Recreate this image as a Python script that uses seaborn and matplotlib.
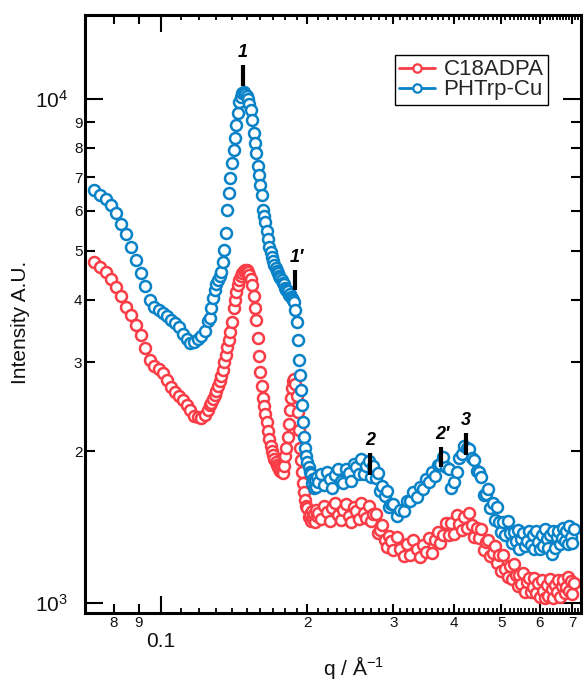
import matplotlib
matplotlib.use("Agg")
import matplotlib.pyplot as plt
from matplotlib.lines import Line2D
from matplotlib.ticker import FixedLocator, FixedFormatter, NullFormatter, NullLocator
import pandas as pd
import seaborn as sns

# ---------------------------------------------------------------- data
# scattering vector q (1/Angstrom)
q_low = [0.073, 0.075, 0.077, 0.079, 0.081, 0.083, 0.085, 0.087, 0.089, 0.091,
         0.093, 0.095, 0.097, 0.099, 0.101, 0.103, 0.105, 0.107, 0.109, 0.111,
         0.113, 0.115, 0.117, 0.119, 0.121, 0.123, 0.125]
q_peak = [0.126, 0.127, 0.128, 0.129, 0.130, 0.131, 0.132, 0.133, 0.134, 0.135,
          0.136, 0.137, 0.138, 0.139, 0.140, 0.141, 0.142, 0.143, 0.144, 0.145,
          0.146, 0.147, 0.148, 0.149, 0.150, 0.151, 0.152, 0.153, 0.154, 0.155,
          0.156, 0.157, 0.158, 0.159, 0.160, 0.161, 0.162, 0.163, 0.164, 0.165,
          0.166, 0.167, 0.168, 0.169, 0.170, 0.171, 0.172, 0.173, 0.174, 0.175,
          0.176, 0.177, 0.178, 0.179, 0.180, 0.181, 0.182, 0.183, 0.184, 0.185,
          0.186, 0.187, 0.188, 0.189, 0.190, 0.191, 0.192, 0.193, 0.194, 0.195,
          0.196, 0.197, 0.198, 0.199, 0.200, 0.201, 0.202, 0.203, 0.204, 0.205,
          0.206, 0.207, 0.208, 0.209, 0.210]
q_mid = [0.213, 0.216, 0.219, 0.222, 0.225, 0.228, 0.231, 0.234, 0.237, 0.240,
         0.243, 0.246, 0.249, 0.252, 0.255, 0.258, 0.261, 0.264, 0.267, 0.270,
         0.273, 0.276, 0.279, 0.282, 0.285, 0.288, 0.291, 0.294, 0.297, 0.300]
q_high = [0.305, 0.310, 0.315, 0.320, 0.325, 0.330, 0.335, 0.340, 0.345, 0.350,
          0.355, 0.360, 0.365, 0.370, 0.375, 0.380, 0.385, 0.390, 0.395, 0.400,
          0.405, 0.410, 0.415, 0.420, 0.425, 0.430, 0.435, 0.440, 0.445, 0.450,
          0.455, 0.460, 0.465, 0.470, 0.475, 0.480, 0.485, 0.490, 0.495, 0.500,
          0.505, 0.510, 0.515, 0.520, 0.525, 0.530, 0.535, 0.540, 0.545, 0.550,
          0.555, 0.560, 0.565, 0.570, 0.575, 0.580, 0.585, 0.590, 0.595, 0.600,
          0.605, 0.610, 0.615, 0.620, 0.625, 0.630, 0.635, 0.640, 0.645, 0.650,
          0.655, 0.660, 0.665, 0.670, 0.675, 0.680, 0.685, 0.690, 0.695, 0.700,
          0.705]

# C18ADPA intensity (a.u.)
c18_low = [4748, 4643, 4537, 4394, 4235, 4065, 3865, 3728, 3560, 3400,
           3200, 3030, 2953, 2912, 2860, 2769, 2682, 2620, 2574, 2527,
           2470, 2415, 2350, 2339, 2328, 2361, 2415]
c18_peak = [2470, 2493, 2540, 2586, 2634, 2694, 2757, 2820, 2899, 3007,
            3104, 3220, 3325, 3449, 3610, 3848, 3991, 4140, 4274, 4373,
            4455, 4516, 4557, 4578, 4578, 4537, 4475, 4394, 4274, 4065,
            3848, 3643, 3356, 3090, 2872, 2694, 2550, 2459, 2371, 2286,
            2194, 2115, 2048, 2002, 1966, 1930, 1904, 1878, 1861, 1844,
            1828, 1820, 1811, 1869, 1957, 2030, 2135, 2265, 2415, 2550,
            2670, 2757, 2782, 2718, 2574, 2393, 2204, 2030, 1921, 1820,
            1730, 1660, 1601, 1558, 1540, 1480, 1500, 1455, 1520, 1470,
            1500, 1445, 1530, 1490, 1510]
c18_mid = [1470, 1560, 1515, 1454, 1545, 1576, 1492, 1462, 1530, 1568,
           1485, 1447, 1553, 1523, 1470, 1576, 1507, 1477, 1560, 1454,
           1502, 1501, 1377, 1395, 1430, 1333, 1291, 1357, 1327, 1271]
c18_high = [1352, 1282, 1238, 1311, 1242, 1332, 1278, 1231, 1305, 1264,
            1348, 1256, 1334, 1380, 1314, 1363, 1440, 1365, 1440, 1368,
            1494, 1436, 1394, 1483, 1411, 1505, 1425, 1354, 1411, 1345,
            1400, 1275, 1323, 1336, 1240, 1254, 1296, 1201, 1243, 1157,
            1242, 1170, 1124, 1183, 1116, 1193, 1134, 1080, 1136, 1090,
            1145, 1051, 1100, 1123, 1052, 1075, 1121, 1048, 1094, 1027,
            1112, 1057, 1023, 1086, 1033, 1113, 1065, 1022, 1084, 1049,
            1110, 1027, 1081, 1110, 1047, 1075, 1124, 1055, 1105, 1041,
            1096]

# PHTrp-Cu intensity (a.u.)
phtrp_low = [6598, 6435, 6330, 6160, 5930, 5650, 5396, 5080, 4800, 4520,
             4250, 4000, 3865, 3813, 3762, 3710, 3643, 3595, 3530, 3418,
             3340, 3278, 3293, 3340, 3387, 3465, 3626]
phtrp_peak = [3676, 3848, 4028, 4178, 4294, 4373, 4455, 4537, 4750, 5016,
              5420, 6022, 6510, 6970, 7465, 7922, 8370, 8890, 9380, 9860,
              10090, 10280, 10330, 10240, 10140, 10000, 9770, 9511, 9086, 8560,
              8180, 7810, 7360, 7065, 6750, 6450, 6022, 5860, 5700, 5470,
              5275, 5086, 4970, 4860, 4770, 4684, 4620, 4557, 4516, 4455,
              4414, 4380, 4313, 4300, 4215, 4178, 4160, 4090, 4110, 4045,
              4028, 3991, 3955, 3813, 3610, 3325, 3034, 2830, 2646, 2470,
              2286, 2135, 2030, 1957, 1904, 1861, 1820, 1800, 1730, 1760,
              1690, 1750, 1700, 1780, 1740]
phtrp_mid = [1805, 1712, 1822, 1760, 1694, 1797, 1846, 1744, 1727, 1845,
             1810, 1747, 1885, 1858, 1804, 1929, 1804, 1871, 1916, 1776,
             1867, 1772, 1808, 1668, 1707, 1627, 1671, 1552, 1570, 1571]
phtrp_high = [1488, 1530, 1520, 1590, 1590, 1660, 1620, 1700, 1680, 1760,
              1740, 1820, 1790, 1880, 1890, 1945, 1860, 1840, 1690, 1740,
              1820, 1935, 1975, 2050, 2030, 2020, 1940, 1920, 1830, 1815,
              1777, 1639, 1647, 1685, 1545, 1581, 1459, 1550, 1450, 1382,
              1448, 1363, 1453, 1378, 1313, 1380, 1325, 1393, 1280, 1342,
              1375, 1295, 1328, 1388, 1302, 1362, 1282, 1388, 1322, 1282,
              1364, 1298, 1399, 1340, 1287, 1362, 1249, 1391, 1284, 1354,
              1391, 1311, 1348, 1411, 1326, 1389, 1309, 1421, 1354, 1315,
              1399]

series_names = ["C18ADPA", "PHTrp-Cu"]

# Bragg-peak markers: label, q position, bar extent in intensity
peak_labels = ["1", "1\u2032", "2", "2\u2032", "3"]
peak_q = [0.1474, 0.1884, 0.2687, 0.3757, 0.4230]
peak_bar_lo = [10610, 4178, 1795, 1861, 1967]
peak_bar_hi = [11680, 4578, 1984, 2040, 2174]

# axis ticks
x_major = [0.1]
x_major_labels = ["0.1"]
x_minor = [0.08, 0.09, 0.2, 0.3, 0.4, 0.5, 0.6, 0.7]
x_minor_labels = ["8", "9", "2", "3", "4", "5", "6", "7"]
x_fine = [k / 100 for k in range(11, 73) if k % 10 != 0]
y_major = [1e3, 1e4]
y_major_labels = [r"$\mathregular{10^{3}}$", r"$\mathregular{10^{4}}$"]
y_minor = [2e3, 3e3, 4e3, 5e3, 6e3, 7e3, 8e3, 9e3]
y_minor_labels = ["2", "3", "4", "5", "6", "7", "8", "9"]

# ---------------------------------------------------------------- style
sns.set_theme(style="white")
plt.rcParams["font.family"] = ["Liberation Sans", "DejaVu Sans"]
plt.rcParams["mathtext.fontset"] = "custom"
plt.rcParams["mathtext.rm"] = "Liberation Sans"
plt.rcParams["mathtext.it"] = "Liberation Sans:italic"
plt.rcParams["mathtext.bf"] = "Liberation Sans:bold"

RED = "#fa3c46"
BLUE = "#0a82c8"
colors = {"C18ADPA": RED, "PHTrp-Cu": BLUE}

q_all = q_low + q_peak + q_mid + q_high
df = pd.DataFrame({
    "q": q_all,
    "C18ADPA": c18_low + c18_peak + c18_mid + c18_high,
    "PHTrp-Cu": phtrp_low + phtrp_peak + phtrp_mid + phtrp_high,
})
long_df = df.melt(id_vars="q", var_name="sample", value_name="intensity")

fig = plt.figure(figsize=(5.84, 6.82), dpi=100)
ax = fig.add_axes([84.5 / 584, 69 / 682, 496.5 / 584, 598 / 682])
ax.set_xscale("log")
ax.set_yscale("log")

for name in series_names:
    sub = long_df[long_df["sample"] == name]
    sns.lineplot(data=sub, x="q", y="intensity", ax=ax, estimator=None,
                 sort=False, linestyle="none", marker="o", markersize=7.9,
                 markerfacecolor="white", markeredgecolor=colors[name],
                 markeredgewidth=1.8, color=colors[name], legend=False)

ax.set_xlim(0.0697, 0.729)
ax.set_ylim(955, 14680)

# finest x ticks live on a twin axis so there are three tick lengths
ax_fine = ax.twiny()
ax_fine.set_xscale("log")
ax_fine.set_xlim(ax.get_xlim())
ax_fine.xaxis.set_major_locator(FixedLocator(x_fine))
ax_fine.xaxis.set_major_formatter(NullFormatter())
ax_fine.xaxis.set_minor_locator(NullLocator())
ax_fine.tick_params(axis="x", which="major", direction="in", length=3.8,
                    width=1.3, color="black", top=True, bottom=True,
                    labeltop=False, labelbottom=False)
for sp in ax_fine.spines.values():
    sp.set_visible(False)

ax.xaxis.set_major_locator(FixedLocator(x_major))
ax.xaxis.set_major_formatter(FixedFormatter(x_major_labels))
ax.xaxis.set_minor_locator(FixedLocator(x_minor))
ax.xaxis.set_minor_formatter(FixedFormatter(x_minor_labels))
ax.yaxis.set_major_locator(FixedLocator(y_major))
ax.yaxis.set_major_formatter(FixedFormatter(y_major_labels))
ax.yaxis.set_minor_locator(FixedLocator(y_minor))
ax.yaxis.set_minor_formatter(FixedFormatter(y_minor_labels))

ax.tick_params(which="both", direction="in", color="black", width=1.5,
               bottom=True, top=True, left=True, right=True,
               labelbottom=True, labelleft=True, labelcolor="#111111")
ax.tick_params(axis="x", which="major", length=12.5, labelsize=15, pad=13.5)
ax.tick_params(axis="x", which="minor", length=6.5, labelsize=11, pad=2.5)
ax.tick_params(axis="y", which="major", length=13, labelsize=15, pad=12)
ax.tick_params(axis="y", which="minor", length=7, labelsize=11, pad=1.5)

for sp in ax.spines.values():
    sp.set_color("black")
    sp.set_linewidth(2.2)

# peak markers
for lab, pq, lo, hi in zip(peak_labels, peak_q, peak_bar_lo, peak_bar_hi):
    ax.plot([pq, pq], [lo, hi], color="black", lw=3.0, solid_capstyle="butt",
            zorder=5)
    ax.annotate(lab, xy=(pq, hi), xytext=(1.5 if len(lab) > 1 else 0, 3),
                textcoords="offset points", ha="center", va="bottom",
                fontsize=13, fontweight="bold", fontstyle="italic",
                color="black", zorder=6)

ax.set_xlabel("q / \u00c5$^{-1}$", fontsize=15, color="#111111")
ax.xaxis.set_label_coords(0.541, -0.0686)
ax.set_ylabel("Intensity A.U.", fontsize=15, color="#111111")
ax.yaxis.set_label_coords(-0.1098, 0.4866)

handles = [Line2D([], [], color=colors[n], lw=2, marker="o", markersize=6,
                  markerfacecolor="white", markeredgecolor=colors[n],
                  markeredgewidth=1.6) for n in series_names]
leg = ax.legend(handles, series_names, loc="upper right",
                bbox_to_anchor=(0.9336, 0.9331), fontsize=16, frameon=True,
                fancybox=False, edgecolor="black", framealpha=1,
                handlelength=1.6, handletextpad=0.4, borderpad=0.2,
                labelspacing=-0.05, borderaxespad=0)
leg.get_frame().set_linewidth(1.0)

fig.savefig("out.png", dpi=100)
